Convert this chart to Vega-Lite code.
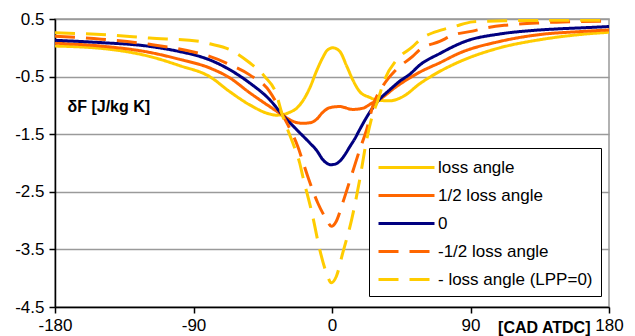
{
  "$schema": "https://vega.github.io/schema/vega-lite/v6.json",
  "width": 554,
  "height": 288,
  "autosize": "none",
  "padding": {"left": 55, "top": 19, "right": 26, "bottom": 29},
  "background": "white",
  "config": {
    "font": "Liberation Sans",
    "view": {"stroke": "#999999", "strokeWidth": 1.5}
  },
  "data": {
    "values": [
      {"s": "loss angle", "x": -180, "y": 0.03},
      {"s": "loss angle", "x": -150, "y": -0.01},
      {"s": "loss angle", "x": -118.5, "y": -0.15},
      {"s": "loss angle", "x": -99, "y": -0.31},
      {"s": "loss angle", "x": -79.5, "y": -0.5},
      {"s": "loss angle", "x": -66.5, "y": -0.76},
      {"s": "loss angle", "x": -53.5, "y": -0.99},
      {"s": "loss angle", "x": -40.5, "y": -1.15},
      {"s": "loss angle", "x": -36, "y": -1.17},
      {"s": "loss angle", "x": -32, "y": -1.16},
      {"s": "loss angle", "x": -27.5, "y": -1.12},
      {"s": "loss angle", "x": -23, "y": -1.05},
      {"s": "loss angle", "x": -18, "y": -0.88},
      {"s": "loss angle", "x": -14.5, "y": -0.7},
      {"s": "loss angle", "x": -10, "y": -0.4},
      {"s": "loss angle", "x": -6, "y": -0.17},
      {"s": "loss angle", "x": -3, "y": -0.04},
      {"s": "loss angle", "x": 0.5, "y": 0.0},
      {"s": "loss angle", "x": 5, "y": -0.06},
      {"s": "loss angle", "x": 9.6, "y": -0.32},
      {"s": "loss angle", "x": 13.4, "y": -0.55},
      {"s": "loss angle", "x": 18, "y": -0.76},
      {"s": "loss angle", "x": 24.4, "y": -0.86},
      {"s": "loss angle", "x": 29.7, "y": -0.91},
      {"s": "loss angle", "x": 37.5, "y": -0.92},
      {"s": "loss angle", "x": 45.9, "y": -0.85},
      {"s": "loss angle", "x": 57.2, "y": -0.62},
      {"s": "loss angle", "x": 70, "y": -0.41},
      {"s": "loss angle", "x": 83, "y": -0.24},
      {"s": "loss angle", "x": 109, "y": 0.0},
      {"s": "loss angle", "x": 135, "y": 0.14},
      {"s": "loss angle", "x": 161, "y": 0.23},
      {"s": "loss angle", "x": 180, "y": 0.27},

      {"s": "1/2 loss angle", "x": -180, "y": 0.08},
      {"s": "1/2 loss angle", "x": -150, "y": 0.03},
      {"s": "1/2 loss angle", "x": -118.5, "y": -0.08},
      {"s": "1/2 loss angle", "x": -99, "y": -0.2},
      {"s": "1/2 loss angle", "x": -79.5, "y": -0.35},
      {"s": "1/2 loss angle", "x": -66.5, "y": -0.52},
      {"s": "1/2 loss angle", "x": -53.5, "y": -0.78},
      {"s": "1/2 loss angle", "x": -40.5, "y": -1.02},
      {"s": "1/2 loss angle", "x": -32, "y": -1.17},
      {"s": "1/2 loss angle", "x": -26, "y": -1.27},
      {"s": "1/2 loss angle", "x": -19, "y": -1.31},
      {"s": "1/2 loss angle", "x": -14, "y": -1.3},
      {"s": "1/2 loss angle", "x": -10, "y": -1.24},
      {"s": "1/2 loss angle", "x": -6, "y": -1.12},
      {"s": "1/2 loss angle", "x": -1.5, "y": -1.04},
      {"s": "1/2 loss angle", "x": 5, "y": -1.02},
      {"s": "1/2 loss angle", "x": 13.4, "y": -1.07},
      {"s": "1/2 loss angle", "x": 20, "y": -1.05},
      {"s": "1/2 loss angle", "x": 26, "y": -0.96},
      {"s": "1/2 loss angle", "x": 30, "y": -0.91},
      {"s": "1/2 loss angle", "x": 42, "y": -0.67},
      {"s": "1/2 loss angle", "x": 57.2, "y": -0.42},
      {"s": "1/2 loss angle", "x": 70, "y": -0.26},
      {"s": "1/2 loss angle", "x": 83, "y": -0.09},
      {"s": "1/2 loss angle", "x": 109, "y": 0.11},
      {"s": "1/2 loss angle", "x": 135, "y": 0.23},
      {"s": "1/2 loss angle", "x": 160, "y": 0.28},
      {"s": "1/2 loss angle", "x": 180, "y": 0.31},

      {"s": "0", "x": -180, "y": 0.13},
      {"s": "0", "x": -150, "y": 0.09},
      {"s": "0", "x": -120, "y": 0.03},
      {"s": "0", "x": -100, "y": -0.06},
      {"s": "0", "x": -86, "y": -0.15},
      {"s": "0", "x": -79.5, "y": -0.21},
      {"s": "0", "x": -66.5, "y": -0.38},
      {"s": "0", "x": -53.5, "y": -0.61},
      {"s": "0", "x": -40.5, "y": -0.9},
      {"s": "0", "x": -32, "y": -1.17},
      {"s": "0", "x": -23, "y": -1.42},
      {"s": "0", "x": -14.5, "y": -1.65},
      {"s": "0", "x": -10, "y": -1.78},
      {"s": "0", "x": -6, "y": -1.94},
      {"s": "0", "x": -3, "y": -2.01},
      {"s": "0", "x": -1, "y": -2.03},
      {"s": "0", "x": 2, "y": -2.02},
      {"s": "0", "x": 5, "y": -1.97},
      {"s": "0", "x": 8, "y": -1.87},
      {"s": "0", "x": 11.5, "y": -1.72},
      {"s": "0", "x": 15, "y": -1.57},
      {"s": "0", "x": 18, "y": -1.42},
      {"s": "0", "x": 24.5, "y": -1.12},
      {"s": "0", "x": 30, "y": -0.92},
      {"s": "0", "x": 37.5, "y": -0.73},
      {"s": "0", "x": 44, "y": -0.58},
      {"s": "0", "x": 50.5, "y": -0.46},
      {"s": "0", "x": 57, "y": -0.3},
      {"s": "0", "x": 70, "y": -0.1},
      {"s": "0", "x": 87.5, "y": 0.12},
      {"s": "0", "x": 109, "y": 0.24},
      {"s": "0", "x": 130, "y": 0.3},
      {"s": "0", "x": 148, "y": 0.33},
      {"s": "0", "x": 165, "y": 0.35},
      {"s": "0", "x": 180, "y": 0.37},

      {"s": "-1/2 loss angle", "x": -180, "y": 0.2},
      {"s": "-1/2 loss angle", "x": -150, "y": 0.15},
      {"s": "-1/2 loss angle", "x": -118.5, "y": 0.06},
      {"s": "-1/2 loss angle", "x": -86, "y": -0.1},
      {"s": "-1/2 loss angle", "x": -79.5, "y": -0.15},
      {"s": "-1/2 loss angle", "x": -66.5, "y": -0.29},
      {"s": "-1/2 loss angle", "x": -53.5, "y": -0.47},
      {"s": "-1/2 loss angle", "x": -40.5, "y": -0.76},
      {"s": "-1/2 loss angle", "x": -32, "y": -1.17},
      {"s": "-1/2 loss angle", "x": -22.3, "y": -1.71},
      {"s": "-1/2 loss angle", "x": -15.8, "y": -2.23},
      {"s": "-1/2 loss angle", "x": -9.3, "y": -2.69},
      {"s": "-1/2 loss angle", "x": -3.6, "y": -2.98},
      {"s": "-1/2 loss angle", "x": -0.4, "y": -3.1},
      {"s": "-1/2 loss angle", "x": 2.8, "y": -3.01},
      {"s": "-1/2 loss angle", "x": 7, "y": -2.69},
      {"s": "-1/2 loss angle", "x": 12.5, "y": -2.23},
      {"s": "-1/2 loss angle", "x": 18, "y": -1.77},
      {"s": "-1/2 loss angle", "x": 22.5, "y": -1.42},
      {"s": "-1/2 loss angle", "x": 26.4, "y": -1.02},
      {"s": "-1/2 loss angle", "x": 32.9, "y": -0.67},
      {"s": "-1/2 loss angle", "x": 41.6, "y": -0.38},
      {"s": "-1/2 loss angle", "x": 52.4, "y": -0.15},
      {"s": "-1/2 loss angle", "x": 57.2, "y": -0.03},
      {"s": "-1/2 loss angle", "x": 70, "y": 0.11},
      {"s": "-1/2 loss angle", "x": 78.6, "y": 0.22},
      {"s": "-1/2 loss angle", "x": 91.4, "y": 0.29},
      {"s": "-1/2 loss angle", "x": 99.2, "y": 0.34},
      {"s": "-1/2 loss angle", "x": 112, "y": 0.39},
      {"s": "-1/2 loss angle", "x": 121, "y": 0.41},
      {"s": "-1/2 loss angle", "x": 133, "y": 0.43},
      {"s": "-1/2 loss angle", "x": 150, "y": 0.45},
      {"s": "-1/2 loss angle", "x": 180, "y": 0.46},

      {"s": "- loss angle (LPP=0)", "x": -180, "y": 0.26},
      {"s": "- loss angle (LPP=0)", "x": -150, "y": 0.23},
      {"s": "- loss angle (LPP=0)", "x": -118.5, "y": 0.17},
      {"s": "- loss angle (LPP=0)", "x": -86, "y": 0.11},
      {"s": "- loss angle (LPP=0)", "x": -79.5, "y": 0.07},
      {"s": "- loss angle (LPP=0)", "x": -66.5, "y": -0.03},
      {"s": "- loss angle (LPP=0)", "x": -53.5, "y": -0.26},
      {"s": "- loss angle (LPP=0)", "x": -43.7, "y": -0.5},
      {"s": "- loss angle (LPP=0)", "x": -36.5, "y": -0.78},
      {"s": "- loss angle (LPP=0)", "x": -32, "y": -1.19},
      {"s": "- loss angle (LPP=0)", "x": -25.5, "y": -1.65},
      {"s": "- loss angle (LPP=0)", "x": -21, "y": -2.0},
      {"s": "- loss angle (LPP=0)", "x": -19, "y": -2.23},
      {"s": "- loss angle (LPP=0)", "x": -12.5, "y": -2.93},
      {"s": "- loss angle (LPP=0)", "x": -8, "y": -3.5},
      {"s": "- loss angle (LPP=0)", "x": -3.6, "y": -3.91},
      {"s": "- loss angle (LPP=0)", "x": -0.4, "y": -4.08},
      {"s": "- loss angle (LPP=0)", "x": 2.8, "y": -3.97},
      {"s": "- loss angle (LPP=0)", "x": 7, "y": -3.56},
      {"s": "- loss angle (LPP=0)", "x": 12.8, "y": -2.98},
      {"s": "- loss angle (LPP=0)", "x": 18, "y": -2.29},
      {"s": "- loss angle (LPP=0)", "x": 22.5, "y": -1.6},
      {"s": "- loss angle (LPP=0)", "x": 26, "y": -1.2},
      {"s": "- loss angle (LPP=0)", "x": 29.7, "y": -0.92},
      {"s": "- loss angle (LPP=0)", "x": 34.2, "y": -0.55},
      {"s": "- loss angle (LPP=0)", "x": 42, "y": -0.21},
      {"s": "- loss angle (LPP=0)", "x": 52.4, "y": 0.02},
      {"s": "- loss angle (LPP=0)", "x": 57.2, "y": 0.14},
      {"s": "- loss angle (LPP=0)", "x": 71.3, "y": 0.31},
      {"s": "- loss angle (LPP=0)", "x": 79.7, "y": 0.37},
      {"s": "- loss angle (LPP=0)", "x": 91.4, "y": 0.45},
      {"s": "- loss angle (LPP=0)", "x": 99, "y": 0.46},
      {"s": "- loss angle (LPP=0)", "x": 112, "y": 0.47},
      {"s": "- loss angle (LPP=0)", "x": 180, "y": 0.48}
    ]
  },
  "mark": {"type": "line", "strokeWidth": 3, "interpolate": "monotone", "clip": true},
  "encoding": {
    "x": {
      "field": "x", "type": "quantitative",
      "scale": {"domain": [-180, 180], "nice": false, "zero": false},
      "axis": {
        "values": [-180, -90, 0, 90, 180],
        "grid": false, "labelFlush": false, "labelOverlap": false,
        "domainColor": "black", "domainWidth": 1.5,
        "tickColor": "black", "tickWidth": 1.5, "tickSize": 6,
        "labelFontSize": 17, "labelColor": "black", "labelPadding": 4,
        "labelExpr": "datum.value + ''",
        "title": "[CAD ATDC]", "titleFontSize": 16, "titleFontWeight": "bold",
        "titleColor": "black", "titleAnchor": null, "titleAlign": "right",
        "titleX": 535, "titleY": 20, "titleBaseline": "middle"
      }
    },
    "y": {
      "field": "y", "type": "quantitative",
      "scale": {"domain": [-4.5, 0.5], "nice": false, "zero": false},
      "axis": {
        "values": [-4.5, -3.5, -2.5, -1.5, -0.5, 0.5],
        "grid": true, "gridColor": "#9a9a9a", "gridWidth": 1.5,
        "labelFlush": false,
        "domainColor": "black", "domainWidth": 1.5,
        "tickColor": "black", "tickWidth": 1.5, "tickSize": 6,
        "labelFontSize": 17, "labelColor": "black", "labelPadding": 5,
        "labelExpr": "datum.value + ''",
        "title": "δF [J/kg K]", "titleFontSize": 16, "titleFontWeight": "bold",
        "titleColor": "black", "titleAngle": 0, "titleAnchor": null, "titleAlign": "left",
        "titleX": 12, "titleY": 87, "titleBaseline": "middle"
      }
    },
    "color": {
      "field": "s", "type": "nominal",
      "scale": {
        "domain": ["loss angle", "1/2 loss angle", "0", "-1/2 loss angle", "- loss angle (LPP=0)"],
        "range": ["#FFCC00", "#FF6600", "#000080", "#FF6600", "#FFCC00"]
      },
      "legend": {
        "title": null, "orient": "none", "legendX": 314, "legendY": 129,
        "symbolType": "M-1,0H4.6", "symbolSize": 400, "symbolStrokeWidth": 3,
        "labelFontSize": 17, "labelColor": "black", "labelOffset": 38,
        "labelExpr": "(datum.label == 'loss angle' || datum.label == '0') ? datum.label : '\u00a0' + datum.label",
        "fillColor": "white", "strokeColor": "black", "padding": 8, "rowPadding": 8,
        "labelLimit": 300
      }
    },
    "strokeDash": {
      "field": "s", "type": "nominal",
      "scale": {
        "domain": ["loss angle", "1/2 loss angle", "0", "-1/2 loss angle", "- loss angle (LPP=0)"],
        "range": [[1, 0], [1, 0], [1, 0], [20, 11], [20, 11]]
      }
    },
    "order": {"field": "s"}
  }
}
